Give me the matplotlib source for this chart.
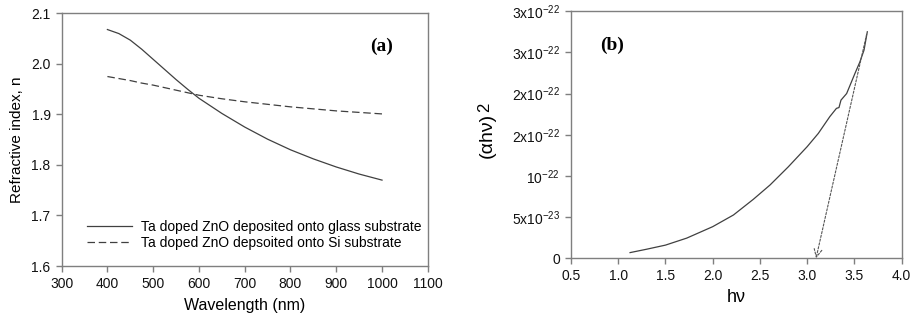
import matplotlib
matplotlib.use("Agg")
import matplotlib.pyplot as plt
from matplotlib.ticker import FixedLocator, FixedFormatter

plt.rcParams['font.family'] = ['Liberation Sans', 'DejaVu Sans']
plt.rcParams['mathtext.fontset'] = 'custom'
plt.rcParams['mathtext.rm'] = 'Liberation Sans'
plt.rcParams['mathtext.it'] = 'Liberation Sans'

# Panel (a) data
wavelength = [400, 425, 450, 475, 500, 525, 550, 575, 600, 650, 700, 750, 800, 850, 900, 950, 1000]
n_glass = [2.068, 2.060, 2.047, 2.029, 2.009, 1.989, 1.969, 1.950, 1.932, 1.902, 1.875, 1.851,
           1.830, 1.812, 1.796, 1.782, 1.770]
n_si = [1.975, 1.971, 1.967, 1.962, 1.958, 1.953, 1.948, 1.943, 1.938, 1.931, 1.925, 1.920,
        1.915, 1.911, 1.907, 1.904, 1.901]
legend_labels = ["Ta doped ZnO deposited onto glass substrate",
                 "Ta doped ZnO depsoited onto Si substrate"]

# Panel (b) data
hv = [1.125, 1.30, 1.50, 1.725, 2.00, 2.22, 2.43, 2.607, 2.80, 3.00, 3.118, 3.24, 3.31,
      3.337, 3.358, 3.418, 3.506, 3.559, 3.602, 3.637]
ahv2 = [0.069e-22, 0.11e-22, 0.16e-22, 0.245e-22, 0.384e-22, 0.526e-22, 0.716e-22, 0.89e-22,
        1.11e-22, 1.355e-22, 1.516e-22, 1.72e-22, 1.82e-22, 1.83e-22, 1.92e-22, 2.0e-22,
        2.244e-22, 2.386e-22, 2.527e-22, 2.75e-22]
fit_x = [3.63, 3.094]
fit_y = [2.72e-22, 0.0]
b_yticks = [0, 0.5e-22, 1.0e-22, 1.5e-22, 2.0e-22, 2.5e-22, 3.0e-22]
b_yticklabels = ['0', r'5x10$^{-23}$', r'10$^{-22}$', r'2x10$^{-22}$', r'2x10$^{-22}$',
                 r'3x10$^{-22}$', r'3x10$^{-22}$']

fig = plt.figure(figsize=(9.2, 3.26), dpi=100)
spine_col = '#7f7f7f'
line_col = '#404040'

# ---- Panel (a)
ax1 = fig.add_axes([0.067, 0.184, 0.398, 0.775])
ax1.plot(wavelength, n_glass, color=line_col, lw=0.9, label=legend_labels[0])
ax1.plot(wavelength, n_si, color=line_col, lw=0.9, ls=(0, (6, 3)), label=legend_labels[1])
ax1.set_xlim(300, 1100)
ax1.set_ylim(1.6, 2.1)
ax1.set_xticks(range(300, 1101, 100))
ax1.set_yticks([1.6, 1.7, 1.8, 1.9, 2.0, 2.1])
ax1.set_yticklabels(['1.6', '1.7', '1.8', '1.9', '2.0', '2.1'])
ax1.set_xlabel('Wavelength (nm)', fontsize=11.5, labelpad=5)
ax1.set_ylabel('Refractive index, n', fontsize=11, labelpad=5)
ax1.text(0.875, 0.871, '(a)', transform=ax1.transAxes, fontsize=14, fontweight='bold',
         family='Liberation Serif', ha='center', va='center')
ax1.legend(loc='lower left', bbox_to_anchor=(0.068, 0.062), frameon=False, fontsize=10,
           handlelength=3.3, handletextpad=0.6, labelspacing=0.15, borderaxespad=0,
           borderpad=0)

# ---- Panel (b)
ax2 = fig.add_axes([0.6207, 0.2077, 0.3593, 0.758])
ax2.plot(hv, ahv2, color=line_col, lw=0.9)
ax2.annotate('', xy=(fit_x[1], fit_y[1]), xytext=(fit_x[0], fit_y[0]),
             arrowprops=dict(arrowstyle='->', color='#555555', lw=0.8, ls=(0, (2, 1.5)),
                             shrinkA=0, shrinkB=0, mutation_scale=14))
ax2.set_xlim(0.5, 4.0)
ax2.set_ylim(0, 3.0e-22)
ax2.set_xticks([0.5, 1.0, 1.5, 2.0, 2.5, 3.0, 3.5, 4.0])
ax2.set_xticklabels(['0.5', '1.0', '1.5', '2.0', '2.5', '3.0', '3.5', '4.0'])
ax2.yaxis.set_major_locator(FixedLocator(b_yticks))
ax2.yaxis.set_major_formatter(FixedFormatter(b_yticklabels))
ax2.set_xlabel('hν', fontsize=13, labelpad=4)
fig.text(0.530, 0.586, '(αhν)', rotation=90, fontsize=14, ha='center', va='center')
fig.text(0.527, 0.672, '2', rotation=90, fontsize=12, ha='center', va='center')
ax2.text(0.124, 0.862, '(b)', transform=ax2.transAxes, fontsize=14, fontweight='bold',
         family='Liberation Serif', ha='center', va='center')

for ax in (ax1, ax2):
    for s in ax.spines.values():
        s.set_color(spine_col)
        s.set_linewidth(1.0)
    ax.tick_params(direction='out', length=4, width=1.0, color=spine_col,
                   labelsize=10, labelcolor='#111111', pad=4)

fig.savefig('out.png', dpi=100)
